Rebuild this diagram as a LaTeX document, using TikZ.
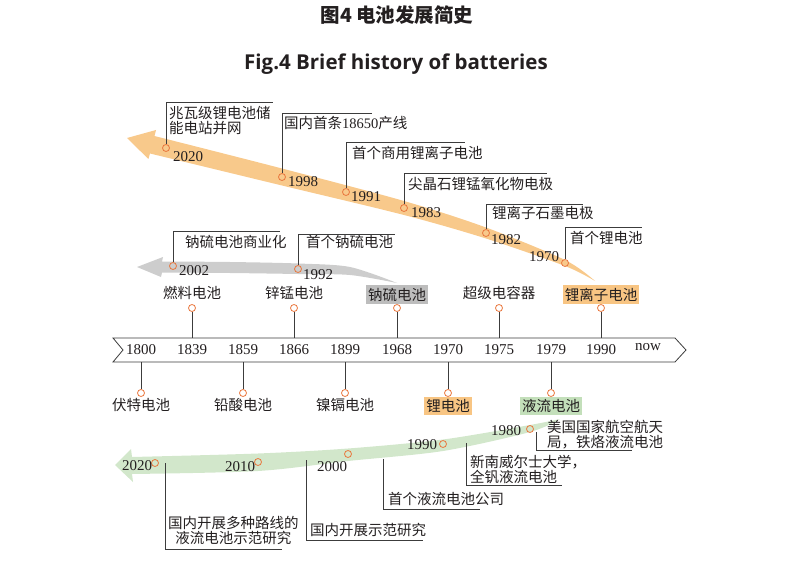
\documentclass[tikz,border=0pt]{standalone}
\usepackage{fontspec}
\setmainfont{Liberation Serif}
\newfontfamily\cjk{Noto Sans CJK SC}
\newfontfamily\titlefont{Open Sans}
\usetikzlibrary{positioning}

\definecolor{inkc}{HTML}{231F20}
\definecolor{linec}{HTML}{3C3C3C}
\definecolor{dotc}{HTML}{E9773E}
\definecolor{liband}{HTML}{F8C98B}
\definecolor{libox}{HTML}{F8C583}
\definecolor{naband}{HTML}{CDCDCD}
\definecolor{nabox}{HTML}{BDBDBD}
\definecolor{flowband}{HTML}{D2E7CB}
\definecolor{flowbox}{HTML}{C3DFBA}

\begin{document}
\begin{tikzpicture}[
      x=1pt, y=-1pt,
      yr/.style={font=\fontsize{15}{15}\selectfont, text=inkc, inner sep=0pt},
      axyr/.style={yr, minimum height=24pt},
      lbl/.style={font=\cjk\fontsize{14.5}{15}\selectfont, text=inkc,
                  inner sep=1pt, align=left},
      hl/.style={lbl, inner xsep=2pt, inner ysep=2.5pt},
      dot/.style={circle, draw=dotc, line width=0.8pt,
                  minimum size=7pt, inner sep=0pt},
      tick/.style={draw=linec, line width=0.8pt},
      callout/.style={draw=linec, line width=0.8pt},
    ]
    \useasboundingbox (0,0) rectangle (801,583);

    % titles
    \node[font=\cjk\bfseries\fontsize{19.5}{19.5}\selectfont, text=inkc] (title) at (397,15) {图4 电池发展简史};
    \node[font=\titlefont\bfseries\fontsize{20.5}{20.5}\selectfont, text=inkc] (subtitle) at (396,64) {Fig.4 Brief history of batteries};

    % bands
    \fill[liband] (127,138) -- (156,130) -- (154.5,136)
      -- plot[smooth] coordinates {(154.5,136) (282,168.5) (404,201) (486,227.5) (565,260) (595,281)}
      -- plot[smooth] coordinates {(595,281) (565,266) (486,238.5) (404,215) (282,185.5) (150,153.5)}
      -- (148.4,159) -- cycle;
    \fill[naband] (137,267) -- (163,257) -- (162,261.5)
      -- plot[smooth] coordinates {(162,261.5) (230,262) (298,263.5) (350,267) (397,283)}
      -- plot[smooth] coordinates {(397,283) (350,275) (298,274) (230,273) (162,272.5)}
      -- (161,277) -- cycle;
    \fill[flowband] (115,465) -- (131,449) -- (132,457)
      -- plot[smooth] coordinates {(132,457) (258,453.5) (348,448.5) (443,439.5) (530,425) (560,419)}
      -- plot[smooth] coordinates {(560,419) (530,432) (443,451) (348,461) (258,471) (132,474)}
      -- (133,482) -- cycle;

    % main time axis
    \draw[linec, line width=0.8pt, fill=white] (113,338) -- (675,338) -- (686,350)
      -- (675,362) -- (113,362) -- (123,350) -- cycle;
    \node[axyr] (y1800) at (141,350) {1800};
    \node[axyr] (y1839) at (192,350) {1839};
    \node[axyr] (y1859) at (243,350) {1859};
    \node[axyr] (y1866) at (294,350) {1866};
    \node[axyr] (y1899) at (345,350) {1899};
    \node[axyr] (y1968) at (397,350) {1968};
    \node[axyr] (y1970) at (448,350) {1970};
    \node[axyr] (y1975) at (499,350) {1975};
    \node[axyr] (y1979) at (551,350) {1979};
    \node[axyr] (y1990) at (601,350) {1990};
    \node[yr]   (ynow)  at (648,347) {now};

    % upper ticks
    \node[dot] (d1839) at (192,308) {};
    \node[dot] (d1866) at (294,308) {};
    \node[dot] (d1968) at (397,308) {};
    \node[dot] (d1975) at (499,308) {};
    \node[dot] (d1990) at (601,308) {};
    \draw[tick] (d1839) -- (y1839);
    \draw[tick] (d1866) -- (y1866);
    \draw[tick] (d1968) -- (y1968);
    \draw[tick] (d1975) -- (y1975);
    \draw[tick] (d1990) -- (y1990);
    \node[lbl, above=3pt of d1839] (fuel)   {燃料电池};
    \node[lbl, above=3pt of d1866] (znmn)   {锌锰电池};
    \node[hl, fill=nabox, above=0pt of d1968] (nas) {钠硫电池};
    \node[lbl, above=3pt of d1975] (supcap) {超级电容器};
    \node[hl, fill=libox, above=0pt of d1990] (liion) {锂离子电池};

    % lower ticks
    \node[dot] (d1800) at (141,393) {};
    \node[dot] (d1859) at (243,393) {};
    \node[dot] (d1899) at (345,393) {};
    \node[dot] (d1970) at (448,393) {};
    \node[dot] (d1979) at (551,393) {};
    \draw[tick] (y1800) -- (d1800);
    \draw[tick] (y1859) -- (d1859);
    \draw[tick] (y1899) -- (d1899);
    \draw[tick] (y1970) -- (d1970);
    \draw[tick] (y1979) -- (d1979);
    \node[lbl, below=0pt of d1800] (volta) {伏特电池};
    \node[lbl, below=0pt of d1859] (pbacid) {铅酸电池};
    \node[lbl, below=0pt of d1899] (nicd)  {镍镉电池};
    \node[hl, fill=libox, below=0pt of d1970] (limetal) {锂电池};
    \node[hl, fill=flowbox, below=0pt of d1979] (flow) {液流电池};

    % lithium branch
    \node[dot] (c2020) at (166,148) {};
    \node[dot] (c1998) at (282,177) {};
    \node[dot] (c1991) at (346,192) {};
    \node[dot] (c1983) at (404,208) {};
    \node[dot] (c1982) at (486,233) {};
    \node[dot] (c1970) at (565,263) {};
    \node[yr] at (188,157) {2020};
    \node[yr] at (303,182) {1998};
    \node[yr] at (366,197) {1991};
    \node[yr] at (426,213) {1983};
    \node[yr] at (506,240) {1982};
    \node[yr] at (544,257) {1970};
    \node[lbl, anchor=north west] (t2020) at (168,104.75) {兆瓦级锂电池储\\能电站并网};
    \node[lbl, anchor=west] (t1998) at (283,123) {国内首条{\rmfamily 18650}产线};
    \node[lbl, anchor=west] (t1991) at (351,153) {首个商用锂离子电池};
    \node[lbl, anchor=west] (t1983) at (407,184) {尖晶石锂锰氧化物电极};
    \node[lbl, anchor=west] (t1982) at (491,213) {锂离子石墨电极};
    \node[lbl, anchor=west] (t1970) at (569,238) {首个锂电池};
    \coordinate (e2020) at (273,102);
    \coordinate (e1998) at (372,113);
    \coordinate (e1991) at (465,142);
    \coordinate (e1983) at (547,173);
    \coordinate (e1982) at (583,204);
    \coordinate (e1970) at (642,227);
    \draw[callout] (c2020) |- (e2020);
    \draw[callout] (c1998) |- (e1998);
    \draw[callout] (c1991) |- (e1991);
    \draw[callout] (c1983) |- (e1983);
    \draw[callout] (c1982) |- (e1982);
    \draw[callout] (c1970) |- (e1970);

    % sodium branch
    \node[dot] (n2002) at (173,266) {};
    \node[dot] (n1992) at (298,269) {};
    \node[yr] at (194,271) {2002};
    \node[yr] at (318,275) {1992};
    \node[lbl, anchor=west] (t2002) at (184,242) {钠硫电池商业化};
    \node[lbl, anchor=west] (t1992) at (305,242) {首个钠硫电池};
    \coordinate (e2002) at (280,231);
    \coordinate (e1992) at (395,234);
    \draw[callout] (n2002) |- (e2002);
    \draw[callout] (n1992) |- (e1992);

    % flow branch
    \node[dot] (f1980) at (530,429) {};
    \node[dot] (f1990) at (443,444) {};
    \node[dot] (f2000) at (348,454) {};
    \node[dot] (f2010) at (258,462) {};
    \node[dot] (f2020) at (155,463) {};
    \node[yr] at (506,431) {1980};
    \node[yr] at (422,445) {1990};
    \node[yr] at (332,467) {2000};
    \node[yr] at (240,467) {2010};
    \node[yr] at (137,466) {2020};
    \node[lbl, anchor=north west] (tnasa) at (546,418.75) {美国国家航空航天\\局，铁烙液流电池};
    \node[lbl, anchor=north west] (tunsw) at (469,453.75) {新南威尔士大学，\\全钒液流电池};
    \node[lbl, anchor=west] (tfirm) at (387,499) {首个液流电池公司};
    \node[lbl, anchor=west] (tdemo) at (309,530) {国内开展示范研究};
    \node[lbl, anchor=north west, align=center] (tmulti) at (167,514.75) {国内开展多种路线的\\液流电池示范研究};
    \coordinate (snasa) at (536,432);  \coordinate (enasa) at (632,450);
    \coordinate (sunsw) at (466,443);  \coordinate (eunsw) at (562,485);
    \coordinate (sfirm) at (383,459);  \coordinate (efirm) at (480,509);
    \coordinate (sdemo) at (306,460);  \coordinate (edemo) at (423,540);
    \coordinate (smulti) at (165,463); \coordinate (emulti) at (282,549);
    \draw[callout] (snasa) |- (enasa);
    \draw[callout] (sunsw) |- (eunsw);
    \draw[callout] (sfirm) |- (efirm);
    \draw[callout] (sdemo) |- (edemo);
    \draw[callout] (smulti) |- (emulti);
  \end{tikzpicture}
\end{document}
